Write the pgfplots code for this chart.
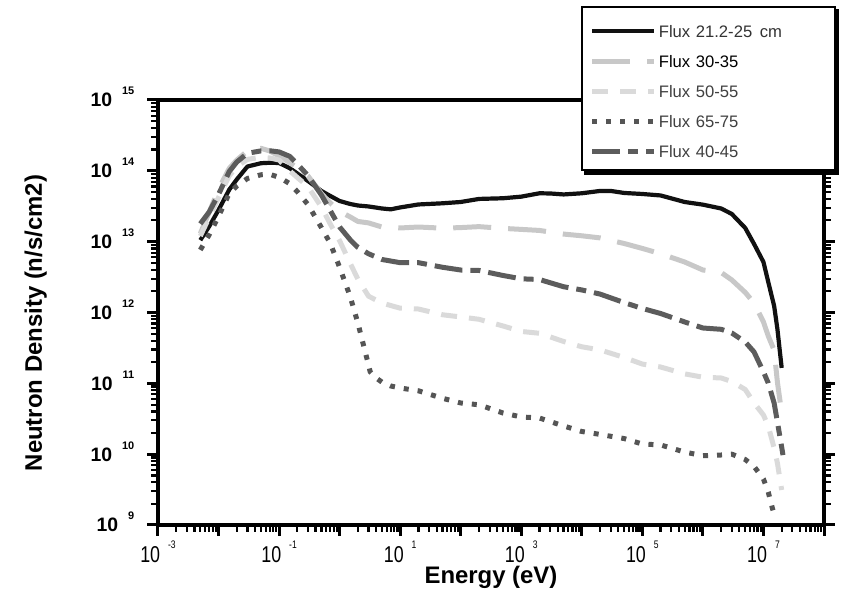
\documentclass[border=0pt]{standalone}
\usepackage{fontspec}
\setmainfont{Liberation Sans}
\newfontfamily\xtickfont[FakeStretch=0.78]{Liberation Sans}
\newfontfamily\ytickfont{Liberation Sans}
\usepackage{pgfplots}
\pgfplotsset{compat=1.18}

\definecolor{c2125}{RGB}{17,17,17}
\definecolor{c3035}{RGB}{200,200,200}
\definecolor{c5055}{RGB}{218,218,218}
\definecolor{c6575}{RGB}{85,85,85}
\definecolor{c4045}{RGB}{92,92,92}

% tick labels: 10 with a small raised exponent
\newcommand{\xl}[1]{10\hspace{8bp}\raisebox{14bp}{\fontsize{11}{11}\selectfont #1}}
\newcommand{\yl}[1]{10\hspace{10bp}\raisebox{12bp}{\fontsize{11}{11}\selectfont #1}}

\begin{document}
\begin{tikzpicture}
\begin{axis}[
  at={(158bp,76bp)},
  scale only axis,
  width=666bp, height=425bp,
  xmode=log, ymode=log,
  xmin=1e-3, xmax=1e8, ymin=1e9, ymax=1e15,
  axis line style={line width=3.3bp, black},
  tick align=outside,
  xtick pos=bottom, ytick pos=both, yticklabel pos=left,
  major tick length=11bp, minor tick length=7bp,
  major tick style={line width=3bp, black},
  minor tick style={line width=2.2bp, black},
  xtick={1e-3,1e-2,1e-1,1,10,100,1e3,1e4,1e5,1e6,1e7,1e8},
  xticklabels={\xl{-3},,\xl{-1},,\xl{1},,\xl{3},,\xl{5},,\xl{7},},
  minor xtick={2e-3,3e-3,4e-3,5e-3,6e-3,7e-3,8e-3,9e-3,
    0.02,0.03,0.04,0.05,0.06,0.07,0.08,0.09,
    0.2,0.3,0.4,0.5,0.6,0.7,0.8,0.9,
    2,3,4,5,6,7,8,9,
    20,30,40,50,60,70,80,90,
    200,300,400,500,600,700,800,900,
    2e3,3e3,4e3,5e3,6e3,7e3,8e3,9e3,
    2e4,3e4,4e4,5e4,6e4,7e4,8e4,9e4,
    2e5,3e5,4e5,5e5,6e5,7e5,8e5,9e5,
    2e6,3e6,4e6,5e6,6e6,7e6,8e6,9e6,
    2e7,3e7,4e7,5e7,6e7,7e7,8e7,9e7},
  ytick={1e9,1e10,1e11,1e12,1e13,1e14,1e15},
  yticklabels={\yl{9},\yl{10},\yl{11},\yl{12},\yl{13},\yl{14},\yl{15}},
  minor ytick={2e9,3e9,4e9,5e9,6e9,7e9,8e9,9e9,
    2e10,3e10,4e10,5e10,6e10,7e10,8e10,9e10,
    2e11,3e11,4e11,5e11,6e11,7e11,8e11,9e11,
    2e12,3e12,4e12,5e12,6e12,7e12,8e12,9e12,
    2e13,3e13,4e13,5e13,6e13,7e13,8e13,9e13,
    2e14,3e14,4e14,5e14,6e14,7e14,8e14,9e14},
  xticklabel style={font=\xtickfont\fontsize{23}{23}\selectfont, anchor=base, inner sep=0pt, yshift=-26.4bp},
  yticklabel style={font=\ytickfont\bfseries\fontsize{19.5}{19.5}\selectfont, anchor=base east, inner sep=0pt, xshift=-12.5bp, yshift=-7bp},
  xlabel={Energy (eV)},
  ylabel={Neutron Density (n/s/cm2)},
  xlabel style={font=\bfseries\fontsize{24}{24}\selectfont, at={(axis description cs:0.5,-0.1388)}, anchor=base},
  ylabel style={font=\bfseries\fontsize{24}{24}\selectfont, at={(axis description cs:-0.1742,0.475)}, anchor=base},
  legend style={
    name=leg,
    at={(axis description cs:0.6351,1.2200)}, anchor=north west,
    draw=black, line width=1.8bp, fill=white,
    font=\fontsize{16.7}{18}\selectfont,
    inner xsep=8bp, inner ysep=11bp, row sep=9bp,
    nodes={inner sep=2bp, text height=17bp, text depth=0bp, anchor=base west, text width=166bp},
  },
  legend image code/.code={\draw[#1] (0bp,6bp) -- (62bp,6bp);},
  every axis plot/.append style={line join=round},
]
\addplot[color=c2125, line width=4.2bp] coordinates {
 (5e-3,1.05e13) (7e-3,1.64e13) (1e-2,2.80e13) (1.5e-2,5.41e13) (2e-2,7.55e13)
 (3e-2,1.15e14) (5e-2,1.28e14) (7e-2,1.30e14) (0.1,1.29e14) (0.15,1.09e14)
 (0.2,9.18e13) (0.3,7.19e13) (0.5,5.20e13) (0.7,4.42e13) (1,3.75e13)
 (1.5,3.40e13) (2,3.24e13) (3,3.14e13) (5,2.94e13) (7,2.86e13)
 (10,3.04e13) (20,3.35e13) (50,3.48e13) (100,3.63e13) (200,4.01e13)
 (500,4.10e13) (1e3,4.32e13) (2e3,4.82e13) (3e3,4.79e13) (5e3,4.64e13)
 (1e4,4.82e13) (2e4,5.20e13) (3e4,5.20e13) (5e4,4.87e13) (1e5,4.71e13)
 (2e5,4.49e13) (5e5,3.63e13) (1e6,3.33e13) (2e6,2.94e13) (3e6,2.46e13)
 (5e6,1.56e13) (7e6,9.27e12) (1e7,5.16e12) (1.2e7,2.70e12) (1.5e7,1.24e12)
 (1.7e7,5.85e11) (2e7,1.65e11)};
\addlegendentry{\textcolor{black!80}{Flux 21.2-25\hspace{0.45em}cm}}
\addplot[color=c3035, line width=5bp, dash pattern=on 38bp off 17bp] coordinates {
 (5e-3,1.3e13) (7e-3,2.6e13) (1e-2,5.5e13) (1.5e-2,1.08e14) (2e-2,1.42e14)
 (3e-2,1.91e14) (5e-2,2.08e14) (7e-2,1.91e14) (0.1,1.62e14) (0.15,1.30e14)
 (0.2,1.10e14) (0.3,8.46e13) (0.5,4.79e13) (0.7,3.52e13) (1,2.67e13)
 (1.5,2.23e13) (2,1.93e13) (3,1.84e13) (5,1.61e13) (10,1.56e13)
 (20,1.61e13) (50,1.55e13) (100,1.58e13) (200,1.63e13) (500,1.54e13)
 (1e3,1.49e13) (2e3,1.44e13) (5e3,1.28e13) (1e4,1.21e13) (2e4,1.13e13)
 (5e4,9.42e12) (1e5,8.02e12) (2e5,6.76e12) (5e5,5.16e12) (1e6,3.98e12)
 (2e6,3.67e12) (3e6,2.88e12) (5e6,1.92e12) (7e6,1.36e12) (1e7,7.35e11)
 (1.2e7,4.66e11) (1.5e7,2.94e11) (1.7e7,1.04e11) (2e7,3.81e10)};
\addlegendentry{\textcolor{black}{Flux 30-35}}
\addplot[color=c5055, line width=5bp, dash pattern=on 16bp off 12bp] coordinates {
 (5e-3,1.2e13) (7e-3,2.2e13) (1e-2,4.2e13) (1.5e-2,8.5e13) (2e-2,1.15e14)
 (3e-2,1.45e14) (5e-2,1.55e14) (7e-2,1.52e14) (0.1,1.42e14) (0.15,1.0e14)
 (0.2,8.05e13) (0.3,6.0e13) (0.5,3.09e13) (0.7,1.78e13) (1,1.03e13)
 (1.5,4.92e12) (2,2.96e12) (3,1.70e12) (5,1.36e12) (10,1.15e12)
 (20,1.12e12) (50,9.29e11) (100,8.65e11) (200,8.02e11) (500,6.45e11)
 (1e3,5.40e11) (2e3,5.09e11) (5e3,3.90e11) (1e4,3.28e11) (2e4,2.96e11)
 (5e4,2.32e11) (1e5,1.87e11) (2e5,1.70e11) (5e5,1.36e11) (1e6,1.22e11)
 (2e6,1.19e11) (3e6,1.06e11) (5e6,8.18e10) (7e6,5.28e10) (1e7,3.57e10)
 (1.2e7,2.50e10) (1.5e7,1.22e10) (1.7e7,7.50e9) (2e7,3.12e9)};
\addlegendentry{\textcolor{black!75}{Flux 50-55}}
\addplot[color=c6575, line width=5bp, dash pattern=on 5bp off 9bp] coordinates {
 (5e-3,7.64e12) (7e-3,1.25e13) (1e-2,2.28e13) (1.5e-2,4.79e13) (2e-2,6.11e13)
 (3e-2,7.80e13) (5e-2,8.79e13) (7e-2,8.94e13) (0.1,8.11e13) (0.15,6.59e13)
 (0.2,5.08e13) (0.3,3.34e13) (0.5,1.58e13) (0.7,9.49e12) (1,4.34e12)
 (1.5,1.66e12) (2,7.11e11) (3,1.82e11) (3.2,1.45e11) (4,1.19e11) (5,1.04e11)
 (7,9.17e10) (10,8.59e10) (20,7.85e10) (50,6.15e10) (100,5.28e10)
 (200,4.98e10) (500,3.81e10) (1e3,3.35e10) (2e3,3.24e10) (5e3,2.50e10)
 (1e4,2.09e10) (2e4,1.90e10) (5e4,1.66e10) (1e5,1.39e10) (2e5,1.35e10)
 (5e5,1.07e10) (1e6,9.51e9) (2e6,9.73e9) (3e6,1.00e10) (5e6,8.41e9)
 (7e6,6.70e9) (1e7,4.46e9) (1.2e7,2.92e9) (1.4e7,1.74e9) (1.5e7,1.43e9)};
\addlegendentry{\textcolor{black!75}{Flux 65-75}}
\addplot[color=c4045, line width=5bp, dash pattern=on 28bp off 8bp on 10bp off 8bp] coordinates {
 (5e-3,1.79e13) (7e-3,2.62e13) (1e-2,4.65e13) (1.5e-2,9.75e13) (2e-2,1.33e14)
 (3e-2,1.77e14) (5e-2,1.91e14) (7e-2,1.92e14) (0.1,1.85e14) (0.15,1.60e14)
 (0.2,1.25e14) (0.3,8.55e13) (0.5,4.56e13) (0.7,2.75e13) (1,1.61e13)
 (1.5,1.06e13) (2,8.30e12) (3,6.75e12) (5,5.60e12) (10,5.05e12)
 (20,5.05e12) (50,4.35e12) (100,3.98e12) (200,3.92e12) (500,3.33e12)
 (1e3,2.99e12) (2e3,2.92e12) (5e3,2.31e12) (1e4,2.08e12) (2e4,1.82e12)
 (5e4,1.38e12) (1e5,1.14e12) (2e5,9.68e11) (5e5,7.35e11) (1e6,6.04e11)
 (2e6,5.79e11) (3e6,5.14e11) (5e6,3.84e11) (7e6,2.77e11) (1e7,1.45e11)
 (1.2e7,1.01e11) (1.5e7,5.28e10) (1.7e7,2.85e10) (2e7,1.26e10) (2.1e7,9.7e9)};
\addlegendentry{\textcolor{black!75}{Flux 40-45}}
\end{axis}
% drop shadow of the legend box
\fill[black] ([xshift=3bp,yshift=-3.5bp]leg.south west) rectangle ([xshift=3.5bp,yshift=0.5bp]leg.south east);
\fill[black] ([xshift=-0.5bp,yshift=-3bp]leg.north east) rectangle ([xshift=3.5bp]leg.south east);
\pgfresetboundingbox
\path[use as bounding box] (0,0) rectangle (841bp,601bp);
\end{tikzpicture}
\end{document}
